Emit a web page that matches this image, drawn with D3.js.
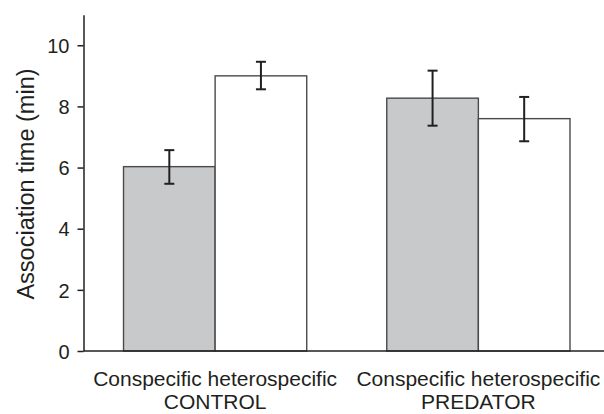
<!DOCTYPE html>
<html>
<head>
<meta charset="utf-8">
<script src="https://cdn.jsdelivr.net/npm/d3@7"></script>
<style>
  body { margin: 0; background: #fff; }
  text { font-family: "Liberation Sans", Arial, sans-serif; fill: #231f20; }
</style>
</head>
<body>
<svg class="chart" width="604" height="414"></svg>
<script>
// data
let groups = ['CONTROL', 'PREDATOR'];
let kinds = ['Conspecific', 'heterospecific'];
let means = [[6.03, 9.0], [8.27, 7.6]];
let errLow = [[5.47, 8.56], [7.37, 6.86]];
let errHigh = [[6.57, 9.46], [9.17, 8.31]];
let yTicks = [0, 2, 4, 6, 8, 10];

let width = 604, height = 414;
let svg = d3.select('.chart');

let margin = { left: 83.5, bottom: 351, top: 14.7 };

let yscale = d3.scaleLinear()
    .domain([0, 11])
    .range([margin.bottom, margin.top]);

let xgroup = d3.scaleBand()
    .domain(groups)
    .range([margin.left, 610])
    .paddingInner(0.304)
    .paddingOuter(0.152);

let xbar = d3.scaleBand()
    .domain(kinds)
    .range([0, xgroup.bandwidth()]);

let fills = { 'Conspecific': '#c8c9cb', 'heterospecific': '#ffffff' };

// flatten
let rows = [];
groups.forEach((g, gi) => {
    kinds.forEach((k, ki) => {
        rows.push({ group: g, kind: k, v: means[gi][ki], lo: errLow[gi][ki], hi: errHigh[gi][ki] });
    });
});

// bars
svg.append('g').selectAll('rect')
    .data(rows)
    .join('rect')
    .attr('x', d => xgroup(d.group) + xbar(d.kind))
    .attr('y', d => yscale(d.v))
    .attr('width', xbar.bandwidth())
    .attr('height', d => yscale(0) - yscale(d.v))
    .style('fill', d => fills[d.kind])
    .style('stroke', '#4a4a4a')
    .style('stroke-width', 1.4);

// error bars
let eb = svg.append('g').selectAll('g')
    .data(rows)
    .join('g')
    .attr('transform', d => `translate(${xgroup(d.group) + xbar(d.kind) + xbar.bandwidth() / 2},0)`)
    .style('stroke', '#231f20')
    .style('stroke-width', 2);

eb.append('line')
    .attr('y1', d => yscale(d.lo))
    .attr('y2', d => yscale(d.hi));
eb.append('line')
    .attr('x1', -5).attr('x2', 5)
    .attr('y1', d => yscale(d.hi)).attr('y2', d => yscale(d.hi));
eb.append('line')
    .attr('x1', -5).attr('x2', 5)
    .attr('y1', d => yscale(d.lo)).attr('y2', d => yscale(d.lo));

// y axis
let yAxis = d3.axisLeft(yscale).tickValues(yTicks).tickSize(6).tickPadding(8).tickSizeOuter(0);
let yg = svg.append('g').attr('transform', `translate(${margin.left},0)`).call(yAxis);
yg.select('.domain').style('stroke', '#231f20').style('stroke-width', 1.5);
yg.selectAll('.tick line').style('stroke', '#231f20').style('stroke-width', 1.5);
yg.selectAll('.tick text').style('font-size', '20px').style('font-family', null).attr('dy', '0.36em');

// x baseline
svg.append('line')
    .attr('x1', margin.left).attr('x2', width)
    .attr('y1', yscale(0)).attr('y2', yscale(0))
    .style('stroke', '#231f20')
    .style('stroke-width', 1.5);

// category labels
groups.forEach(g => {
    svg.append('text')
        .attr('x', xgroup(g) + xgroup.bandwidth() / 2)
        .attr('y', 386)
        .attr('text-anchor', 'middle')
        .style('font-size', '21px')
        .text(kinds.join(' '));
    svg.append('text')
        .attr('x', xgroup(g) + xgroup.bandwidth() / 2)
        .attr('y', 409)
        .attr('text-anchor', 'middle')
        .style('font-size', '21px')
        .text(g);
});

// y title
svg.append('text')
    .attr('transform', `translate(34,184)rotate(-90)`)
    .attr('text-anchor', 'middle')
    .style('font-size', '23.5px')
    .text('Association time (min)');
</script>
</body>
</html>
